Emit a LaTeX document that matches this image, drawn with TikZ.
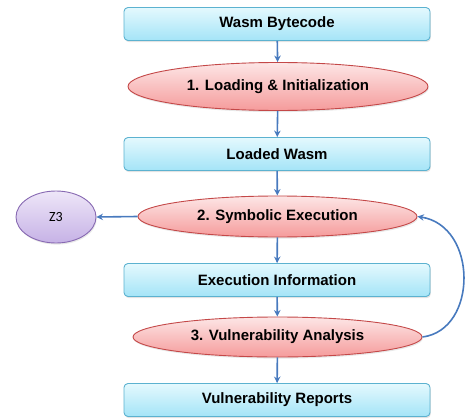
\documentclass[tikz,border=0pt]{standalone}
\usepackage{fontspec}
\setmainfont{Liberation Sans}
\newfontfamily\zfont{Carlito}
\usetikzlibrary{shapes.geometric,arrows.meta,shadows}
\definecolor{boxtop}{RGB}{228,249,254}
\definecolor{boxbot}{RGB}{164,228,247}
\definecolor{boxborder}{RGB}{92,178,208}
\definecolor{elltop}{RGB}{253,230,230}
\definecolor{ellbot}{RGB}{245,155,155}
\definecolor{ellborder}{RGB}{196,72,72}
\definecolor{ztop}{RGB}{238,230,248}
\definecolor{zbot}{RGB}{198,178,230}
\definecolor{zborder}{RGB}{135,105,178}
\definecolor{arrowc}{RGB}{72,122,190}
\begin{document}
\begin{tikzpicture}[x=1pt,y=-1pt,
  boxnode/.style={draw=boxborder, line width=0.9pt, rounded corners=4pt,
    top color=boxtop, bottom color=boxbot, minimum width=306pt, minimum height=33pt,
    inner sep=0pt, font=\bfseries\fontsize{15}{18}\selectfont,
    drop shadow={opacity=0.22, shadow xshift=0.8pt, shadow yshift=-1.6pt}},
  ellnode/.style={ellipse, draw=ellborder, line width=0.9pt,
    top color=elltop, bottom color=ellbot, inner sep=0pt,
    font=\bfseries\fontsize{15}{18}\selectfont,
    drop shadow={opacity=0.18, shadow xshift=0.8pt, shadow yshift=-1.6pt}},
  znode/.style={ellipse, draw=zborder, line width=0.9pt,
    top color=ztop, bottom color=zbot, inner sep=0pt,
    minimum width=80pt, minimum height=52pt, font=\zfont\fontsize{14}{16}\selectfont,
    drop shadow={opacity=0.18, shadow xshift=0.8pt, shadow yshift=-1.6pt}},
  flow/.style={draw=arrowc, line width=1.6pt, -{Stealth[length=6.5pt,width=6.5pt]}}
]
\useasboundingbox (0,0) rectangle (466,420);
\node[boxnode] (b1) at (277,24) {Wasm Bytecode};
\node[ellnode, minimum width=300pt, minimum height=48pt] (e1) at (278,86.5) {1. Loading \& Initialization};
\node[boxnode] (b2) at (277,154) {Loaded Wasm};
\node[ellnode, minimum width=279pt, minimum height=41pt] (e2) at (277.5,216.5) {2. Symbolic Execution};
\node[znode] (z3) at (56,217) {Z3};
\node[boxnode] (b3) at (277,280) {Execution Information};
\node[ellnode, minimum width=289pt, minimum height=40pt] (e3) at (277.5,337) {3. Vulnerability Analysis};
\node[boxnode] (b4) at (277,400) {Vulnerability Reports};
\draw[flow] (b1) -- (e1);
\draw[flow] (e1) -- (b2);
\draw[flow] (b2) -- (e2);
\draw[flow] (e2) -- (b3);
\draw[flow] (b3) -- (e3);
\draw[flow] (e3) -- (b4);
\draw[flow] (e2.west) -- (z3.east);
\draw[flow] (e3.east) .. controls (478,330) and (478,226) .. (e2.east);
\end{tikzpicture}
\end{document}
